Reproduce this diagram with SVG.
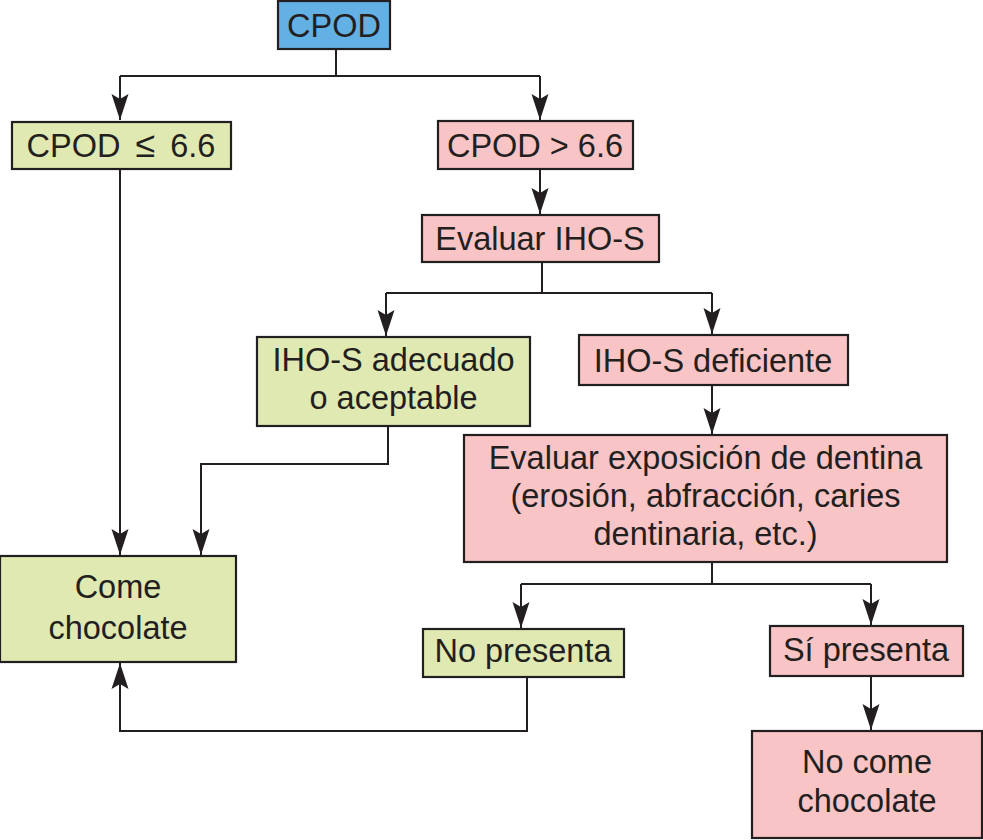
<svg xmlns="http://www.w3.org/2000/svg" width="983" height="840" viewBox="0 0 983 840">
<style>
.box{stroke:#231f20;stroke-width:2.2}
.blue{fill:#63b1e4}
.green{fill:#e0e9b1}
.pink{fill:#f8c4c5}
text{font-family:"Liberation Sans",Arial,sans-serif;font-size:32.5px;fill:#231f20;text-anchor:middle}
.c{fill:none;stroke:#231f20;stroke-width:2}
</style>
<defs>
<marker id="ah" viewBox="0 0 26 18" refX="26" refY="9" markerWidth="26" markerHeight="18" markerUnits="userSpaceOnUse" orient="auto">
<path d="M0,0.5 L26,9 L0,17.5 L5,9 Z" fill="#231f20"/>
</marker>
</defs>
<rect width="983" height="840" fill="#ffffff"/>
<g id="connectors">
<path class="c" d="M336,49 V76 M120,76 H540"/>
<path class="c" d="M120,76 V120" marker-end="url(#ah)"/>
<path class="c" d="M540,76 V120" marker-end="url(#ah)"/>
<path class="c" d="M540,169 V214" marker-end="url(#ah)"/>
<path class="c" d="M542,262 V293 M386,293 H712"/>
<path class="c" d="M386,293 V336" marker-end="url(#ah)"/>
<path class="c" d="M712,293 V334" marker-end="url(#ah)"/>
<path class="c" d="M712,385 V434" marker-end="url(#ah)"/>
<path class="c" d="M388,426 V464 H201 V555" marker-end="url(#ah)"/>
<path class="c" d="M120,169 V555" marker-end="url(#ah)"/>
<path class="c" d="M712,562 V584 M521,584 H871"/>
<path class="c" d="M521,584 V628" marker-end="url(#ah)"/>
<path class="c" d="M871,584 V625" marker-end="url(#ah)"/>
<path class="c" d="M527,677 V731 H120 V663" marker-end="url(#ah)"/>
<path class="c" d="M871,676 V730" marker-end="url(#ah)"/>
</g>
<g id="cpod"><rect class="box blue" x="278" y="1" width="112" height="48"/><text x="334" y="37">CPOD</text></g>
<g id="cpod-le"><rect class="box green" x="12" y="122" width="219" height="47"/><text x="121" y="157">CPOD <tspan dx="6" font-size="36">≤</tspan><tspan dx="6"> 6.6</tspan></text></g>
<g id="cpod-gt"><rect class="box pink" x="438" y="121" width="195" height="48"/><text x="535" y="157">CPOD &gt; 6.6</text></g>
<g id="evaluar-ihos"><rect class="box pink" x="422" y="215" width="237" height="47"/><text x="540" y="250">Evaluar IHO-S</text></g>
<g id="ihos-adecuado"><rect class="box green" x="257" y="337" width="273" height="89"/><text x="393.5" y="371">IHO-S adecuado</text><text x="393.5" y="409">o aceptable</text></g>
<g id="ihos-deficiente"><rect class="box pink" x="579" y="335" width="269" height="50"/><text x="713" y="372">IHO-S deficiente</text></g>
<g id="evaluar-dentina"><rect class="box pink" x="464" y="435" width="483" height="127"/><text x="705.5" y="469">Evaluar exposición de dentina</text><text x="705.5" y="507">(erosión, abfracción, caries</text><text x="705.5" y="545">dentinaria, etc.)</text></g>
<g id="come-chocolate"><rect class="box green" x="0" y="556" width="236" height="106"/><text x="118" y="598">Come</text><text x="118" y="639">chocolate</text></g>
<g id="no-presenta"><rect class="box green" x="423" y="629" width="201" height="48"/><text x="523" y="662">No presenta</text></g>
<g id="si-presenta"><rect class="box pink" x="770" y="626" width="193" height="50"/><text x="866" y="661">Sí presenta</text></g>
<g id="no-come-chocolate"><rect class="box pink" x="752" y="731" width="230" height="107"/><text x="867" y="773">No come</text><text x="867" y="812">chocolate</text></g>
</svg>
